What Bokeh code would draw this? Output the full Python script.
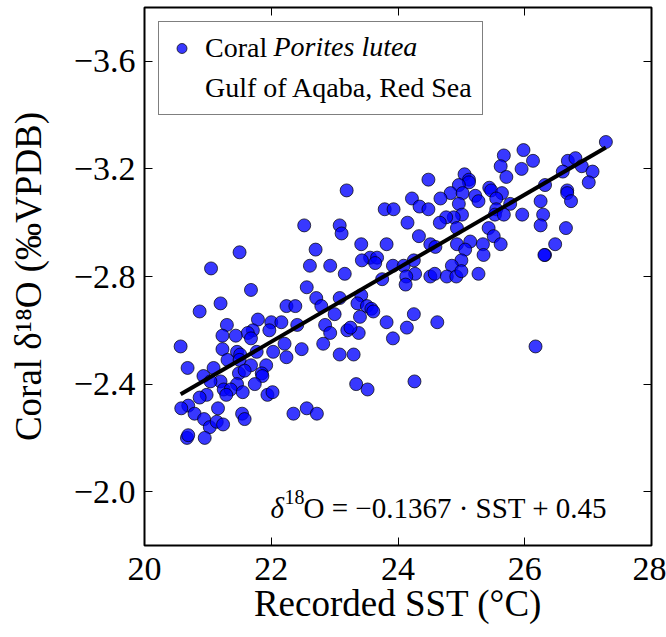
from bokeh.plotting import figure
from bokeh.models import (Range1d, FixedTicker, LinearAxis, CustomJSTickFormatter,
                          Legend, LegendItem, Label)
from bokeh.embed import file_html
from bokeh.resources import INLINE

# Recorded SST (deg C)
sst = [
    22.52, 22.70, 21.50, 22.61, 21.05, 21.68, 22.56, 22.71, 21.20, 20.87,
    22.24, 22.38, 21.30, 21.79, 22.00, 22.16, 21.71, 21.63, 21.97, 22.41,
    21.23, 21.44, 21.68, 20.57, 21.23, 21.46, 21.51, 21.77, 22.03, 22.21,
    22.48, 21.31, 21.50, 21.68, 21.92, 22.24, 20.68, 21.09, 20.93, 21.49,
    21.58, 21.85, 21.86, 21.20, 21.04, 21.46, 21.74, 21.25, 21.36, 21.55,
    21.94, 22.02, 20.98, 20.87, 21.29, 20.69, 20.58, 20.79, 21.16, 20.94,
    21.03, 21.14, 21.24, 21.54, 21.58, 20.67, 20.69, 20.95, 22.35, 22.56,
    22.72,
    24.48, 25.05, 25.12, 25.12, 24.96, 24.83, 25.02, 25.22, 25.27, 23.19,
    24.22, 24.34, 24.48, 24.67, 24.96, 23.79, 23.93, 25.01, 24.88, 24.76,
    24.66, 24.93, 24.15, 23.08, 23.11, 24.33, 24.51, 24.59, 24.93, 25.14,
    25.06, 23.42, 23.82, 23.56, 23.67, 23.43, 23.64, 25.00, 24.85, 22.93,
    23.16, 23.92, 24.09, 24.25, 24.27, 24.13, 24.12, 24.51, 24.58, 24.77,
    24.92, 25.00, 25.27, 23.75, 23.08, 23.42, 22.79, 23.36, 23.51, 23.58,
    23.61, 23.40, 23.00, 22.85, 22.93, 23.20, 23.38, 23.25, 23.82, 24.14,
    24.25, 24.62, 23.92, 22.82, 23.08, 23.30, 23.34, 23.52, 24.26,
    27.28, 25.67, 25.98, 26.13, 25.62, 25.71, 25.95, 26.68, 26.80, 26.90,
    27.07, 27.01, 26.60, 26.32, 26.67, 26.67, 26.73, 26.25, 26.29, 26.25,
    26.65, 25.96, 25.44, 25.47, 25.64, 25.55, 25.77, 25.55, 25.53, 25.67,
    25.43, 25.51, 25.62, 25.34, 25.35, 26.48, 26.32, 26.31, 26.17,
]

# Coral d18O (permil VPDB)
d18o = [
    -2.99, -2.90, -2.89, -2.84, -2.83, -2.75, -2.76, -2.72, -2.70, -2.67,
    -2.69, -2.69, -2.62, -2.64, -2.63, -2.63, -2.60, -2.59, -2.60, -2.62,
    -2.58, -2.58, -2.57, -2.54, -2.53, -2.52, -2.51, -2.52, -2.52, -2.55,
    -2.53, -2.49, -2.49, -2.47, -2.47, -2.50, -2.46, -2.46, -2.43, -2.44,
    -2.45, -2.44, -2.43, -2.41, -2.41, -2.40, -2.40, -2.38, -2.38, -2.37,
    -2.36, -2.37, -2.36, -2.35, -2.36, -2.32, -2.31, -2.29, -2.31, -2.27,
    -2.24, -2.26, -2.25, -2.29, -2.27, -2.20, -2.21, -2.20, -2.29, -2.31,
    -2.29,
    -3.16, -3.18, -3.16, -3.15, -3.14, -3.11, -3.11, -3.10, -3.08, -3.12,
    -3.09, -3.06, -3.05, -3.09, -3.07, -3.05, -3.05, -3.03, -3.02, -3.02,
    -3.00, -2.98, -3.00, -2.99, -2.96, -2.95, -2.92, -2.91, -2.92, -2.93,
    -2.90, -2.92, -2.92, -2.87, -2.87, -2.86, -2.85, -2.86, -2.84, -2.84,
    -2.81, -2.84, -2.84, -2.86, -2.81, -2.80, -2.77, -2.80, -2.81, -2.80,
    -2.80, -2.82, -2.81, -2.79, -2.72, -2.73, -2.69, -2.70, -2.69, -2.68,
    -2.67, -2.65, -2.66, -2.62, -2.59, -2.60, -2.59, -2.61, -2.63, -2.61,
    -2.66, -2.63, -2.57, -2.55, -2.51, -2.51, -2.40, -2.38, -2.41,
    -3.30, -3.25, -3.27, -3.23, -3.21, -3.17, -3.20, -3.23, -3.24, -3.21,
    -3.19, -3.15, -3.19, -3.14, -3.12, -3.11, -3.08, -3.08, -3.03, -2.99,
    -2.98, -3.03, -3.13, -3.12, -3.11, -3.09, -3.07, -3.05, -3.03, -3.03,
    -2.98, -2.95, -2.92, -2.92, -2.88, -2.92, -2.88, -2.88, -2.54,
]

# regression: d18O = slope * SST + intercept
slope = -0.1367
intercept = 0.45

x_ticks = [20, 22, 24, 26, 28]
y_ticks = [-3.6, -3.2, -2.8, -2.4, -2.0]

legend_line1_a = "Coral"
legend_line1_b = "Porites lutea"
legend_line2 = "Gulf of Aqaba, Red Sea"

SERIF = "Liberation Serif"

p = figure(width=666, height=637, output_backend="svg", toolbar_location=None,
           x_range=Range1d(20, 28), y_range=Range1d(-1.8, -3.8),
           min_border_left=144, min_border_right=15,
           min_border_top=7, min_border_bottom=92)
p.background_fill_color = "white"
p.border_fill_color = "white"
p.outline_line_color = "black"
p.outline_line_width = 2
p.xgrid.grid_line_color = None
p.ygrid.grid_line_color = None

yfmt = CustomJSTickFormatter(code="return tick.toFixed(1).replace('-', '\u2212');")
xfmt = CustomJSTickFormatter(code="return tick.toFixed(0);")
blankfmt = CustomJSTickFormatter(code="return '';")


def style_axis(ax):
    ax.axis_line_color = None
    ax.major_tick_in = 8
    ax.major_tick_out = 0
    ax.minor_tick_in = 0
    ax.minor_tick_out = 0
    ax.major_tick_line_color = "black"
    ax.major_tick_line_width = 1
    ax.major_label_text_font = SERIF
    ax.major_label_text_color = "black"
    ax.major_label_text_font_size = "34px"
    ax.axis_label_text_font = SERIF
    ax.axis_label_text_font_style = "normal"
    ax.axis_label_text_color = "black"
    ax.axis_label_text_font_size = "37px"


xa = p.xaxis[0]
ya = p.yaxis[0]
xa.ticker = FixedTicker(ticks=x_ticks)
ya.ticker = FixedTicker(ticks=y_ticks)
xa.formatter = xfmt
ya.formatter = yfmt
xa.axis_label = "Recorded SST (°C)"
ya.axis_label = "Coral δ¹⁸O (‰VPDB)"
style_axis(xa)
style_axis(ya)
xa.major_label_standoff = 12
ya.major_label_standoff = 9
xa.axis_label_standoff = 0
ya.axis_label_standoff = 22

top = LinearAxis(ticker=FixedTicker(ticks=x_ticks), formatter=blankfmt)
right = LinearAxis(ticker=FixedTicker(ticks=y_ticks), formatter=blankfmt)
style_axis(top)
style_axis(right)
top.major_label_standoff = 0
right.major_label_standoff = 0
p.add_layout(top, "above")
p.add_layout(right, "right")

sc = p.scatter(sst, d18o, size=13, marker="circle",
               fill_color="blue", fill_alpha=0.78,
               line_color="black", line_alpha=0.7, line_width=1)

fit_x = [min(sst), max(sst)]
fit_y = [slope * v + intercept for v in fit_x]
p.line(fit_x, fit_y, line_color="black", line_width=4)

dummy = p.scatter([], [], marker="circle", fill_alpha=0, line_alpha=0)

legend = Legend(items=[LegendItem(label=legend_line1_a, renderers=[sc]),
                       LegendItem(label=legend_line2, renderers=[dummy])],
                location="top_left", margin=14, padding=10, spacing=8,
                glyph_width=25, glyph_height=30, label_height=30,
                label_standoff=11,
                label_text_font=SERIF, label_text_font_size="28px",
                label_text_color="black",
                border_line_color="black", border_line_width=1.5,
                background_fill_alpha=0)
p.add_layout(legend)

p.add_layout(Label(x=129, y=499, x_units="screen", y_units="screen",
                   text=legend_line1_b, text_font=SERIF, text_font_size="28px",
                   text_font_style="italic", text_color="black",
                   text_baseline="middle", level="overlay"))

# equation text
eq_x, eq_y = 126, 38
p.add_layout(Label(x=eq_x, y=eq_y, x_units="screen", y_units="screen",
                   text="δ", text_font=SERIF, text_font_size="29px",
                   text_font_style="italic", text_color="black",
                   text_baseline="alphabetic", level="overlay"))
p.add_layout(Label(x=eq_x + 14, y=eq_y + 11, x_units="screen", y_units="screen",
                   text="18", text_font=SERIF, text_font_size="20px",
                   text_color="black", text_baseline="alphabetic", level="overlay"))
p.add_layout(Label(x=eq_x + 33, y=eq_y, x_units="screen", y_units="screen",
                   text="O = \u22120.1367 · SST + 0.45", text_font=SERIF,
                   text_font_size="29px", text_color="black",
                   text_baseline="alphabetic", level="overlay"))

with open("out.html", "w", encoding="utf-8") as f:
    f.write(file_html(p, INLINE))
